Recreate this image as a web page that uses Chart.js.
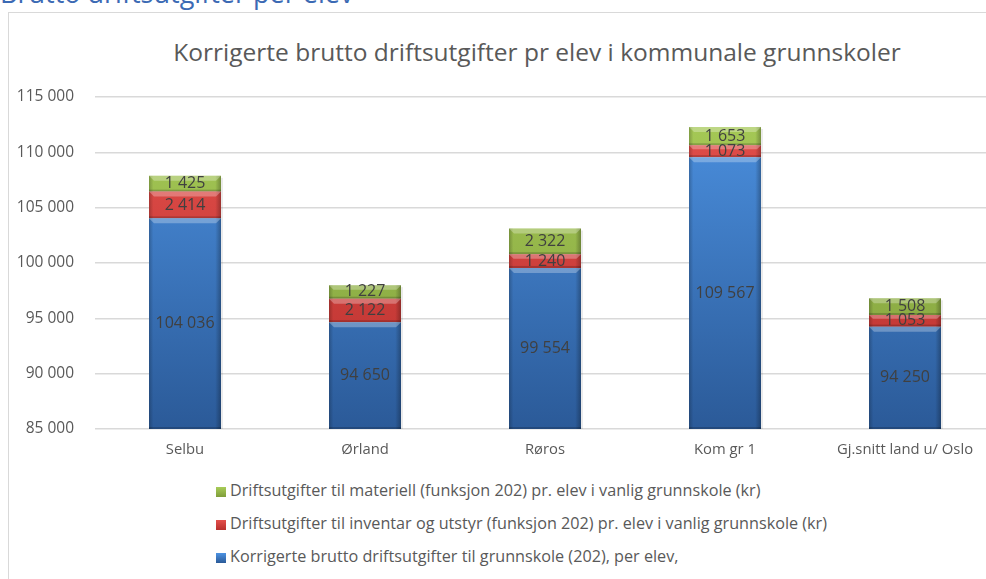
<!DOCTYPE html>
<html>
<head>
<meta charset="utf-8">
<script src="https://cdn.jsdelivr.net/npm/chart.js@4"></script>
<style>
  html, body { margin:0; padding:0; width:986px; height:579px; overflow:hidden; background:#fff; font-family: "Open Sans", Lato, sans-serif; }
  #header { position:absolute; left:0; top:-21px; font-size:27px; line-height:27px; color:#3c6ab4; white-space:nowrap; }
  #frame { position:absolute; left:8px; top:12px; width:1100px; height:700px; border:1px solid #d9d9d9; box-sizing:border-box; }
  #title { position:absolute; left:0; width:1074px; top:35px; text-align:center; font-size:24.5px; color:#595959; white-space:nowrap; }
  #wrap { position:absolute; left:0; top:0; width:1010px; height:470px; }
  #legend { position:absolute; left:216px; top:479px; font-size:16.2px; color:#595959; }
  .li { height:33px; line-height:22px; white-space:nowrap; }
  .sw { display:inline-block; width:10px; height:10px; margin-right:4px; vertical-align:-1px; }
</style>
</head>
<body>
<div id="header">Brutto driftsutgifter per elev</div>
<div id="frame"></div>
<div id="title">Korrigerte brutto driftsutgifter pr elev i kommunale grunnskoler</div>
<div id="wrap"><canvas id="c"></canvas></div>
<div id="legend"></div>
<script>
const categories = ["Selbu", "Ørland", "Røros", "Kom gr 1", "Gj.snitt land u/ Oslo"];
const seriesNames = [
  "Korrigerte brutto driftsutgifter til grunnskole (202), per elev,",
  "Driftsutgifter til inventar og utstyr (funksjon 202) pr. elev i vanlig grunnskole (kr)",
  "Driftsutgifter til materiell (funksjon 202) pr. elev i vanlig grunnskole (kr)"
];
const bruttoValues = [104036, 94650, 99554, 109567, 94250];
const inventarValues = [2414, 2122, 1240, 1073, 1053];
const materiellValues = [1425, 1227, 2322, 1653, 1508];
const yMin = 85000, yMax = 115000, yStep = 5000;

const palette = [
  { top:"#4d93e3", bottom:"#2b5a98", swatch:"#3d7cc9" },
  { top:"#e4504c", bottom:"#b8302d", swatch:"#d0413d" },
  { top:"#a8cc58", bottom:"#7f9d3a", swatch:"#94b84a" }
];

function fmt(v){ return String(v).replace(/\B(?=(\d{3})+(?!\d))/g, ' '); }

function grad(i){
  return function(ctx){
    const area = ctx.chart.chartArea;
    if(!area) return palette[i].swatch;
    const g = ctx.chart.ctx.createLinearGradient(0, area.top, 0, area.bottom);
    g.addColorStop(0, palette[i].top);
    g.addColorStop(1, palette[i].bottom);
    return g;
  };
}

const bevelPlugin = {
  id:'bevel',
  afterDatasetsDraw(chart){
    const c = chart.ctx, area = chart.chartArea;
    c.save();
    c.beginPath(); c.rect(area.left, area.top - 40, area.right - area.left, area.bottom - area.top + 40); c.clip();
    chart.data.datasets.forEach((ds, di) => {
      chart.getDatasetMeta(di).data.forEach(el => {
        const l = el.x - el.width/2, r = el.x + el.width/2;
        const top = el.y, bot = Math.min(el.base, area.bottom);
        const h = bot - top;
        if (h <= 0) return;
        const g = c.createLinearGradient(l, 0, r, 0);
        g.addColorStop(0, 'rgba(0,0,0,0.22)');
        g.addColorStop(0.06, 'rgba(0,0,0,0.0)');
        g.addColorStop(0.92, 'rgba(0,0,0,0.0)');
        g.addColorStop(1, 'rgba(0,0,0,0.28)');
        c.fillStyle = g; c.fillRect(l, top, r-l, h);
        const bh = Math.min(5, h/3);
        c.fillStyle = 'rgba(255,255,255,0.28)';
        c.beginPath();
        c.moveTo(l, top); c.lineTo(r, top); c.lineTo(r-bh, top+bh); c.lineTo(l+bh, top+bh); c.closePath(); c.fill();
        c.fillStyle = 'rgba(0,0,0,0.18)';
        c.fillRect(l, bot-2, r-l, 2);
      });
    });
    const meta = chart.getDatasetMeta(0);
    meta.data.forEach((el, idx) => {
      const r = el.x + el.width/2;
      const topEl = chart.getDatasetMeta(chart.data.datasets.length-1).data[idx];
      c.fillStyle = 'rgba(0,0,0,0.08)';
      c.fillRect(r, topEl.y + 2, 2, area.bottom - topEl.y - 2);
    });
    c.restore();
  }
};

const labelPlugin = {
  id:'vals',
  afterDatasetsDraw(chart){
    const c = chart.ctx, area = chart.chartArea;
    c.save();
    c.font = '16px "Open Sans", Lato, sans-serif';
    c.fillStyle = '#404040';
    c.textAlign = 'center';
    c.textBaseline = 'middle';
    chart.data.datasets.forEach((ds, di) => {
      chart.getDatasetMeta(di).data.forEach((el, i) => {
        const top = el.y, bot = Math.min(el.base, area.bottom);
        c.fillText(fmt(ds.data[i]), el.x, (top + bot)/2);
      });
    });
    c.restore();
  }
};

const datasets = [bruttoValues, inventarValues, materiellValues].map((vals, i) => ({
  label: seriesNames[i],
  data: vals,
  backgroundColor: grad(i),
  borderWidth: 0,
  categoryPercentage: 0.8,
  barPercentage: 0.5
}));

new Chart(document.getElementById('c'), {
  type:'bar',
  data:{ labels: categories, datasets },
  options:{
    responsive:true, maintainAspectRatio:false, animation:false,
    layout:{ padding:{ top:97, right:15, left:0, bottom:0 } },
    plugins:{ legend:{ display:false }, tooltip:{ enabled:false } },
    scales:{
      x:{
        stacked:true,
        grid:{ display:false, drawTicks:false },
        border:{ display:false },
        ticks:{ color:'#595959', font:{ family:'"Open Sans"', size:14.8 }, padding:12, maxRotation:0 },
        afterFit(s){ s.height = 41; }
      },
      y:{
        stacked:true, min:yMin, max:yMax,
        grid:{ color:'#d9d9d9', lineWidth:1.5, drawTicks:false },
        border:{ display:false },
        ticks:{ stepSize:yStep, color:'#595959', font:{ family:'"Open Sans"', size:15.5 }, padding:21, callback:v => fmt(v) },
        afterFit(s){ s.width = 95; }
      }
    }
  },
  plugins:[bevelPlugin, labelPlugin]
});

const leg = document.getElementById('legend');
[2,1,0].forEach(i => {
  const d = document.createElement('div'); d.className = 'li';
  const s = document.createElement('span'); s.className = 'sw';
  s.style.background = 'linear-gradient(' + palette[i].top + ',' + palette[i].bottom + ')';
  d.appendChild(s);
  d.appendChild(document.createTextNode(seriesNames[i]));
  leg.appendChild(d);
});
</script>
</body>
</html>
